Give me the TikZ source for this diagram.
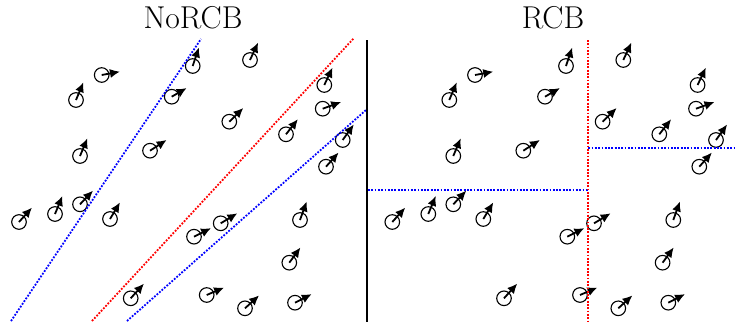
\documentclass[tikz,border=0pt]{standalone}
\usetikzlibrary{arrows.meta}
\begin{document}
\begin{tikzpicture}[x=0.5pt,y=-0.5pt,
  particle/.style={draw, circle, minimum size=7.3pt, inner sep=0pt, line width=0.55pt},
  spin/.style={line width=0.9pt, -{Latex[length=5pt,width=4.6pt]}, shorten >=-1pt},
  cutblue/.style={blue, line width=0.9pt, dash pattern=on 0.9pt off 0.75pt},
  cutred/.style={red, line width=0.9pt, dash pattern=on 0.9pt off 0.75pt},
  divider/.style={line width=1pt},
  title/.style={font=\fontsize{15.8}{18}\selectfont, anchor=base, inner sep=0pt}]
\useasboundingbox (0,0) rectangle (735,322);
% titles
\node[title] (tleft) at (193,28) {NoRCB};
\node[title] (tright) at (553,28) {RCB};
% particles with spins
\foreach \cx/\cy/\tx/\ty [count=\i] in {
  101.7/75/118/72, 76/100/82.7/84, 80/156/86.7/140, 150/150.7/165/141,
  171.7/96.7/185/89, 19/222/30.7/209, 55/214/61.7/197.7, 80/204.3/91.7/192,
  110/219/119/204, 130.7/298.3/142.7/285, 192.7/66/198.3/49.3, 250/60/257.3/44.3,
  324.3/85/331.7/69.3, 322.7/108.7/339.3/102.7, 229.3/121.7/242/109.3,
  286/134.3/296.7/120.7, 342.7/140/352.7/126, 326/166.7/337.3/154,
  194/236.7/209.3/229, 220.7/223.3/235.7/214.3, 300/220/306/203.3,
  289.3/262.7/299.3/249, 206.7/295/222.3/288.3, 245/308.3/257.7/296.7,
  295/302.7/310/295} {
  \node[particle] (L\i) at (\cx,\cy) {};
  \coordinate (tL\i) at (\tx,\ty);
  \draw[spin] (L\i.center) -- (tL\i);
  \node[particle] (R\i) at (\cx+373.3,\cy) {};
  \coordinate (tR\i) at (\tx+373.3,\ty);
  \draw[spin] (R\i.center) -- (tR\i);
}
% left panel cuts
\coordinate (b1s) at (11,321);   \coordinate (b1e) at (201,39);
\coordinate (r1s) at (92,321);   \coordinate (r1e) at (354,38);
\coordinate (b2s) at (127,321);  \coordinate (b2e) at (366,110);
\draw[cutblue] (b1s) -- (b1e);
\draw[cutred] (r1s) -- (r1e);
\draw[cutblue] (b2s) -- (b2e);
% divider
\coordinate (dtop) at (367.3,40); \coordinate (dbot) at (367.3,322);
\draw[divider] (dtop) -- (dbot);
% right panel cuts
\coordinate (rvt) at (588.3,40); \coordinate (rvb) at (588.3,322);
\coordinate (hl) at (368,190);   \coordinate (hm) at (588.3,190);
\coordinate (hr1) at (588.3,148.3); \coordinate (hr2) at (735,148.3);
\draw[cutblue] (hl) -- (hm);
\draw[cutblue] (hr1) -- (hr2);
\draw[cutred] (rvt) -- (rvb);
\end{tikzpicture}
\end{document}
